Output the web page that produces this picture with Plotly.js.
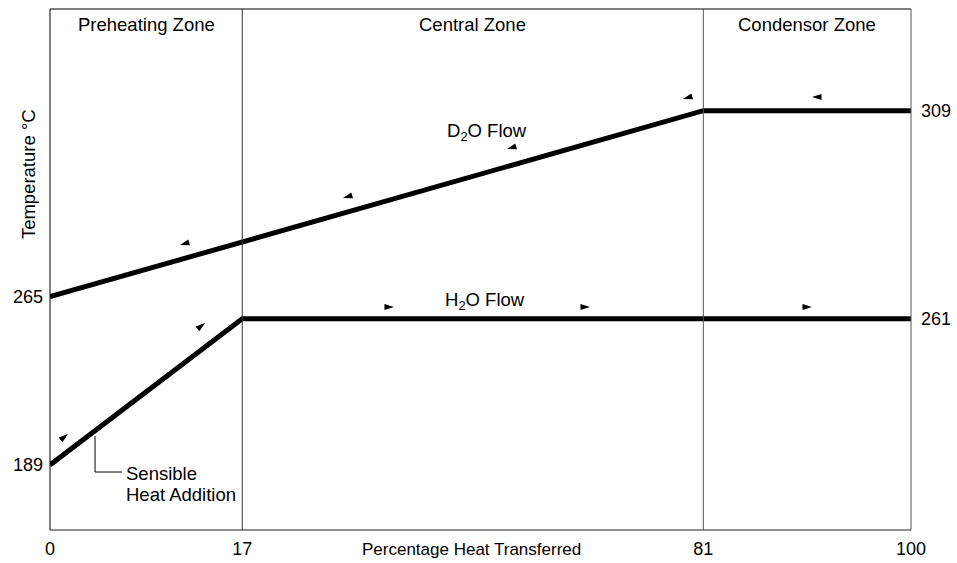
<!DOCTYPE html>
<html>
<head>
<meta charset="utf-8">
<script src="https://cdn.plot.ly/plotly-3.0.1.min.js"></script>
<style>html,body{margin:0;padding:0;background:#fff;}#chart{width:957px;height:563px;}</style>
</head>
<body>
<div id="chart"></div>
<script>
// ---- Data (real units) ----
const zoneNames = ['Preheating Zone', 'Central Zone', 'Condensor Zone'];
const pctTicks = [0, 17, 81, 100];              // percentage heat transferred
const h2oPct = [0, 17, 100];
const h2oTemp = [189, 261, 261];                // H2O flow, °C
const d2oPct = [0, 81, 100];
const d2oTemp = [265, 309, 309];                // D2O flow, °C
const leftTempLabels = [265, 189];
const rightTempLabels = [309, 261];

// ---- Schematic layout (the drawing is not to scale) ----
const xAnchorPct = [0, 17, 81, 100];
const xAnchorPos = [0, 22.33, 75.88, 100];
const tAnchor = [189, 261, 265, 309];
const tAnchorPos = [12.48, 40.56, 44.78, 80.48];
function interp(v, a, b) {
  for (let i = 0; i < a.length - 1; i++) {
    if (v >= a[i] && v <= a[i + 1]) return b[i] + (v - a[i]) / (a[i + 1] - a[i]) * (b[i + 1] - b[i]);
  }
  return v < a[0] ? b[0] : b[b.length - 1];
}
const px = v => interp(v, xAnchorPct, xAnchorPos);
const py = v => interp(v, tAnchor, tAnchorPos);

// flow-direction arrowheads (decoration, schematic positions)
const d2oArrowX = [15.10, 34.03, 53.08, 73.52, 88.50];
const d2oArrowY = [54.70, 63.72, 73.13, 82.73, 83.11];
const d2oArrowAng = [254, 254, 254, 254, 270];
const h2oArrowX = [2.09, 18.00, 39.95, 62.72, 88.50];
const h2oArrowY = [18.43, 39.73, 42.80, 42.80, 42.80];
const h2oArrowAng = [52, 52, 90, 90, 90];

const FONT = 'Liberation Sans, Arial, sans-serif';
const FS = 18.5;
const TFS = 18;

const traces = [
  {x: d2oPct.map(px), y: d2oTemp.map(py), mode: 'lines', line: {color: '#000', width: 5}, hoverinfo: 'skip'},
  {x: h2oPct.map(px), y: h2oTemp.map(py), mode: 'lines', line: {color: '#000', width: 5}, hoverinfo: 'skip'},
  {x: d2oArrowX, y: d2oArrowY, mode: 'markers', marker: {symbol: 'arrow', size: 10, color: '#000', angle: d2oArrowAng, line: {width: 0}}, hoverinfo: 'skip'},
  {x: h2oArrowX, y: h2oArrowY, mode: 'markers', marker: {symbol: 'arrow', size: 10, color: '#000', angle: h2oArrowAng, line: {width: 0}}, hoverinfo: 'skip'},
  // invisible trace to activate right axis
  {x: [0], y: [0], yaxis: 'y2', mode: 'markers', marker: {opacity: 0}, hoverinfo: 'skip'}
];

const zoneEdges = [0, 17, 81, 100];
const annotations = [];
for (let i = 0; i < zoneNames.length; i++) {
  annotations.push({x: (px(zoneEdges[i]) + px(zoneEdges[i + 1])) / 2, y: 97.0, xref: 'x', yref: 'y',
    text: zoneNames[i], showarrow: false, font: {family: FONT, size: FS, color: '#000'}});
}
annotations.push(
  {x: 50.75, y: 76.4, xref: 'x', yref: 'y', text: 'D<sub>2</sub>O Flow', showarrow: false, font: {family: FONT, size: FS, color: '#000'}},
  {x: 50.52, y: 43.95, xref: 'x', yref: 'y', text: 'H<sub>2</sub>O Flow', showarrow: false, font: {family: FONT, size: FS, color: '#000'}},
  {x: 8.65, y: 10.94, xref: 'x', yref: 'y', text: 'Sensible', xanchor: 'left', showarrow: false, font: {family: FONT, size: FS, color: '#000'}},
  {x: 8.65, y: 6.91, xref: 'x', yref: 'y', text: 'Heat Addition', xanchor: 'left', showarrow: false, font: {family: FONT, size: FS, color: '#000'}},
  {x: 0.490, y: -0.038, xref: 'paper', yref: 'paper', yanchor: 'middle', text: 'Percentage Heat Transferred', showarrow: false, font: {family: FONT, size: 17, color: '#000'}},
  {x: -0.0256, y: 0.683, xref: 'paper', yref: 'paper', xanchor: 'center', yanchor: 'middle', textangle: -90, text: 'Temperature °C', showarrow: false, font: {family: FONT, size: FS, color: '#000'}}
);

const shapes = [
  // frame
  {type: 'line', xref: 'paper', yref: 'paper', x0: 0, x1: 0, y0: 0, y1: 1, line: {color: '#000', width: 1}},
  {type: 'line', xref: 'paper', yref: 'paper', x0: 0, x1: 1, y0: 1, y1: 1, line: {color: '#000', width: 1}},
  {type: 'line', xref: 'paper', yref: 'paper', x0: 0, x1: 1, y0: 0, y1: 0, line: {color: '#222', width: 1}},
  {type: 'line', xref: 'paper', yref: 'paper', x0: 1, x1: 1, y0: 0, y1: 1, line: {color: '#555', width: 1}},
  // zone boundaries
  {type: 'line', xref: 'x', yref: 'paper', x0: px(17), x1: px(17), y0: 0, y1: 1, line: {color: '#333', width: 1}},
  {type: 'line', xref: 'x', yref: 'paper', x0: px(81), x1: px(81), y0: 0, y1: 1, line: {color: '#555', width: 1}},
  // leader for sensible heat label
  {type: 'path', xref: 'x', yref: 'y', path: 'M 5.23 18.04 L 5.23 11.13 L 8.36 11.13', line: {color: '#000', width: 1}}
];

const layout = {
  width: 957, height: 563,
  margin: {l: 50, r: 46, t: 9, b: 33},
  paper_bgcolor: '#fff', plot_bgcolor: '#fff',
  showlegend: false,
  font: {family: FONT, size: TFS, color: '#000'},
  xaxis: {range: [0, 100], showgrid: false, zeroline: false, showline: false, ticks: '',
    tickmode: 'array', tickvals: pctTicks.map(px), ticktext: pctTicks.map(String),
    tickfont: {family: FONT, size: TFS, color: '#000'}, ticklabelstandoff: 6, fixedrange: true},
  yaxis: {range: [0, 100], showgrid: false, zeroline: false, showline: false, ticks: '',
    tickmode: 'array', tickvals: leftTempLabels.map(py), ticktext: leftTempLabels.map(String),
    tickfont: {family: FONT, size: TFS, color: '#000'}, ticklabelstandoff: 6, fixedrange: true},
  yaxis2: {range: [0, 100], overlaying: 'y', side: 'right', showgrid: false, zeroline: false, showline: false, ticks: '',
    tickmode: 'array', tickvals: rightTempLabels.map(py), ticktext: rightTempLabels.map(String),
    tickfont: {family: FONT, size: TFS, color: '#000'}, ticklabelstandoff: 9, fixedrange: true},
  annotations: annotations,
  shapes: shapes
};

Plotly.newPlot('chart', traces, layout, {displayModeBar: false, staticPlot: true});
</script>
</body>
</html>
